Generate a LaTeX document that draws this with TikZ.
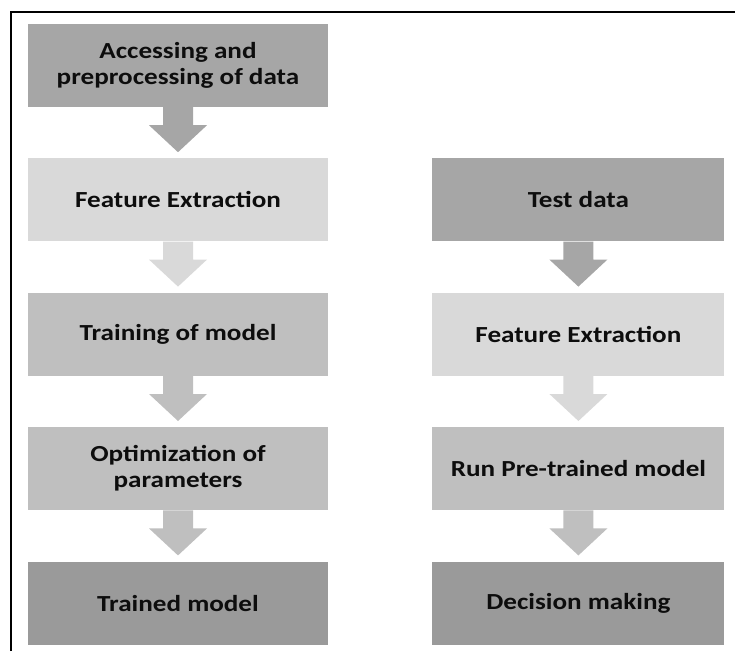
\documentclass[tikz,border=0pt]{standalone}
\usepackage{xcolor}
\usepackage{fontspec}
\setmainfont{Carlito}[FakeStretch=1.18]
\usepackage{tikz}
\usetikzlibrary{positioning,calc}

\definecolor{boxdark}{HTML}{A6A6A6}
\definecolor{boxlight}{HTML}{D9D9D9}
\definecolor{boxmid}{HTML}{BFBFBF}
\definecolor{boxdeep}{HTML}{9A9A9A}

\tikzset{
  stage/.style={rectangle, minimum height=83pt, inner sep=0pt, align=center,
    font=\fontsize{23}{26}\selectfont\bfseries, text=black!95},
}

% block arrow from bottom of #1 to just above #2, colour #3
\newcommand{\blockarrow}[3]{%
  \fill[#3] let \p1=(#1.south), \p2=(#2.north) in
    (\x1-15pt,\y1) -- (\x1-15pt,\y1-18pt) -- (\x1-29pt,\y1-18pt) --
    (\x1,\y2+6pt) -- (\x1+29pt,\y1-18pt) -- (\x1+15pt,\y1-18pt) --
    (\x1+15pt,\y1) -- cycle;}

\begin{document}
\begin{tikzpicture}[node distance=51pt]
      \useasboundingbox (0,0) rectangle (735pt,-651pt);
      % Marco
      \draw[line width=2pt] (11pt,-651pt) -- (11pt,-12pt) -- (735pt,-12pt);

      % Entrenamiento
      \node[stage, minimum width=300pt, fill=boxdark] (access) at (178pt,-65.5pt) {Accessing and\\preprocessing of data};
      \node[stage, minimum width=300pt, fill=boxlight, below=of access] (featA) {Feature Extraction};
      \node[stage, minimum width=300pt, fill=boxmid, below=of featA] (train) {Training of model};
      \node[stage, minimum width=300pt, fill=boxmid, below=of train] (optim) {Optimization of\\parameters};
      \node[stage, minimum width=300pt, fill=boxdeep, below=of optim] (trained) {Trained model};

      % Prueba
      \node[stage, minimum width=292pt, fill=boxdark, right=104pt of featA] (test) {Test data};
      \node[stage, minimum width=292pt, fill=boxlight, below=of test] (featB) {Feature Extraction};
      \node[stage, minimum width=292pt, fill=boxmid, below=of featB] (run) {Run Pre-trained model};
      \node[stage, minimum width=292pt, fill=boxdeep, below=of run] (decide) {Decision making};

      % Flechas
      \blockarrow{access}{featA}{boxdark}
      \blockarrow{featA}{train}{boxlight}
      \blockarrow{train}{optim}{boxmid}
      \blockarrow{optim}{trained}{boxmid}
      \blockarrow{test}{featB}{boxdark}
      \blockarrow{featB}{run}{boxlight}
      \blockarrow{run}{decide}{boxmid}
    \end{tikzpicture}
\end{document}
